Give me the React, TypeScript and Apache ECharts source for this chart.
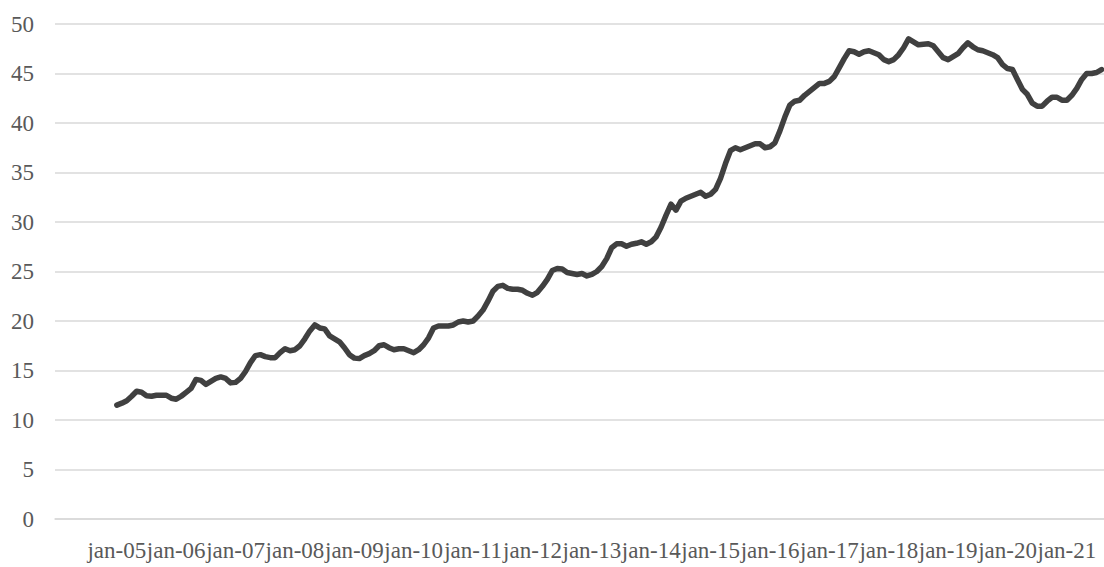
import React, { useEffect, useRef } from "react";
import * as echarts from "echarts";

// Monthly values, Jan of each year onward
const v2005 = [11.5, 11.7, 11.95, 12.4, 12.9, 12.8, 12.45, 12.4, 12.5, 12.5, 12.5, 12.2];
const v2006 = [12.1, 12.4, 12.8, 13.2, 14.1, 14.0, 13.6, 13.9, 14.2, 14.35, 14.2, 13.75];
const v2007 = [13.8, 14.2, 14.9, 15.8, 16.5, 16.6, 16.4, 16.3, 16.3, 16.8, 17.2, 17.0];
const v2008 = [17.1, 17.5, 18.2, 19.0, 19.6, 19.3, 19.2, 18.5, 18.2, 17.9, 17.3, 16.6];
const v2009 = [16.25, 16.2, 16.5, 16.7, 17.0, 17.5, 17.6, 17.3, 17.1, 17.2, 17.2, 17.0];
const v2010 = [16.8, 17.1, 17.6, 18.3, 19.3, 19.5, 19.5, 19.5, 19.6, 19.9, 20.0, 19.9];
const v2011 = [20.0, 20.5, 21.1, 22.0, 23.0, 23.5, 23.6, 23.3, 23.2, 23.2, 23.1, 22.8];
const v2012 = [22.6, 22.9, 23.5, 24.2, 25.1, 25.3, 25.25, 24.9, 24.8, 24.7, 24.8, 24.55];
const v2013 = [24.7, 25.0, 25.5, 26.3, 27.4, 27.8, 27.8, 27.55, 27.75, 27.85, 28.0, 27.75];
const v2014 = [28.0, 28.5, 29.5, 30.7, 31.8, 31.2, 32.1, 32.4, 32.6, 32.8, 33.0, 32.6];
const v2015 = [32.8, 33.3, 34.4, 35.9, 37.2, 37.5, 37.3, 37.5, 37.7, 37.9, 37.9, 37.5];
const v2016 = [37.6, 38.0, 39.2, 40.6, 41.8, 42.2, 42.3, 42.8, 43.2, 43.6, 44.0, 44.0];
const v2017 = [44.2, 44.7, 45.6, 46.5, 47.3, 47.2, 46.95, 47.2, 47.3, 47.1, 46.9, 46.4];
const v2018 = [46.2, 46.4, 46.9, 47.6, 48.5, 48.2, 47.9, 47.95, 48.0, 47.8, 47.2, 46.6];
const v2019 = [46.4, 46.7, 47.0, 47.6, 48.1, 47.7, 47.4, 47.3, 47.1, 46.9, 46.6, 45.9];
const v2020 = [45.5, 45.4, 44.4, 43.4, 42.9, 42.0, 41.7, 41.7, 42.2, 42.6, 42.6, 42.3];
const v2021 = [42.3, 42.8, 43.5, 44.4, 45.0, 45.0, 45.1, 45.4];

const yearSeries = [v2005, v2006, v2007, v2008, v2009, v2010, v2011, v2012, v2013, v2014, v2015, v2016, v2017, v2018, v2019, v2020, v2021];
const firstYear = 2005;
const leadingEmptyMonths = 12; // axis starts one year before the first observation
const monthNames = ["jan", "feb", "mar", "apr", "maj", "jun", "jul", "aug", "sep", "okt", "nov", "dec"];
const yTicks = { min: 0, max: 50, interval: 5 };

export default function App() {
  const ref = useRef<HTMLDivElement>(null);
  useEffect(() => {
    if (!ref.current) return;
    const chart = echarts.init(ref.current, null, { renderer: "svg" });

    const values: (number | null)[] = [];
    const cats: string[] = [];
    for (let i = 0; i < leadingEmptyMonths; i++) {
      const yr = firstYear - 1;
      cats.push(monthNames[i % 12] + "-" + String(yr % 100).padStart(2, "0"));
      values.push(null);
    }
    yearSeries.forEach((arr, yi) => {
      const yr = firstYear + yi;
      arr.forEach((v, mi) => {
        cats.push(monthNames[mi] + "-" + String(yr % 100).padStart(2, "0"));
        values.push(v);
      });
    });

    const font = "Liberation Serif";
    chart.setOption({
      animation: false,
      backgroundColor: "#ffffff",
      grid: { left: 55, right: 0, top: 24, bottom: 48, containLabel: false },
      xAxis: {
        type: "category",
        data: cats,
        boundaryGap: true,
        axisLine: { show: true, lineStyle: { color: "#d9d9d9", width: 1.5 } },
        axisTick: { show: false },
        axisLabel: {
          interval: (index: number) => index >= leadingEmptyMonths && (index - leadingEmptyMonths) % 12 === 0,
          color: "#595959",
          fontFamily: font,
          fontSize: 23,
          margin: 20,
        },
        splitLine: { show: false },
      },
      yAxis: {
        type: "value",
        min: yTicks.min,
        max: yTicks.max,
        interval: yTicks.interval,
        axisLine: { show: false },
        axisTick: { show: false },
        axisLabel: {
          color: "#595959",
          fontFamily: font,
          fontSize: 23,
          margin: 21,
        },
        splitLine: { lineStyle: { color: "#d9d9d9", width: 1.5 } },
      },
      series: [
        {
          type: "line",
          data: values,
          showSymbol: false,
          symbol: "none",
          smooth: false,
          lineStyle: { color: "#404040", width: 5.5, cap: "round", join: "round" },
        },
      ],
    });
    return () => chart.dispose();
  }, []);

  return (
    <div
      ref={ref}
      style={{ position: "fixed", left: 0, top: 0, width: 1104, height: 567, background: "#fff" }}
    />
  );
}
